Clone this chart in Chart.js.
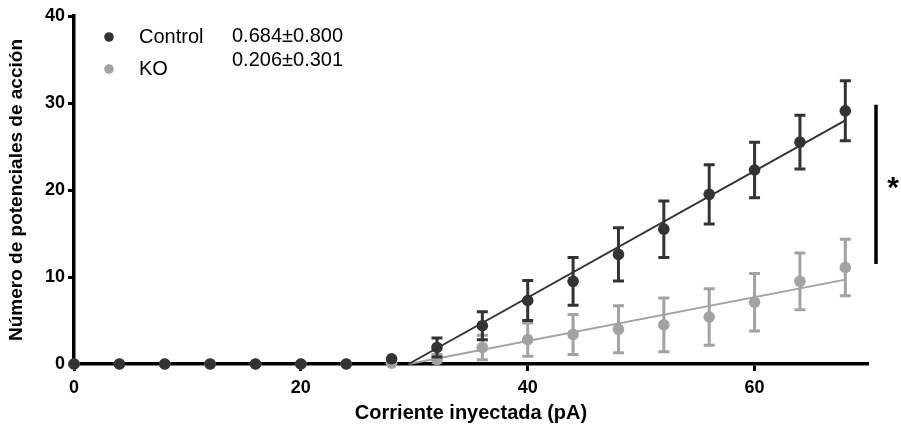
<!DOCTYPE html>
<html>
<head>
<meta charset="utf-8">
<script src="https://cdn.jsdelivr.net/npm/chart.js@4.4.0/dist/chart.umd.min.js"></script>
<style>
  body { margin: 0; background: #fff; }
  #wrap { width: 901px; height: 425px; }
</style>
</head>
<body>
<div id="wrap"><canvas id="myChart" width="901" height="425"></canvas></div>
<script>
// corriente inyectada (pA)
const currents = [0, 4, 8, 12, 16, 20, 24, 28, 32, 36, 40, 44, 48, 52, 56, 60, 64, 68];

const controlMean = [0, 0, 0, 0, 0, 0, 0, 0.6, 1.9, 4.4, 7.3, 9.5, 12.6, 15.5, 19.5, 22.3, 25.5, 29.1];
const controlErr  = [0, 0, 0, 0, 0, 0, 0, 0, 1.1, 1.6, 2.3, 2.75, 3.05, 3.25, 3.4, 3.2, 3.1, 3.45];

const koMean = [0, 0, 0, 0, 0, 0, 0, 0.1, 0.5, 1.9, 2.8, 3.4, 4.0, 4.5, 5.4, 7.1, 9.5, 11.1];
const koErr  = [0, 0, 0, 0, 0, 0, 0, 0, 0.6, 1.4, 1.9, 2.3, 2.7, 3.1, 3.25, 3.3, 3.25, 3.25];

// fit lines (start, end)
const fitX = [29.5, 68];
const controlFit = [0, 28.0];
const koFit = [0, 9.7];

const legendNames = ['Control', 'KO'];
const legendValues = ['0.684\u00b10.800', '0.206\u00b10.301'];

const sigRange = [11.5, 29.8];

const xTicks = [0, 20, 40, 60];

const darkColor = '#333333';
const greyColor = '#a2a2a6';
const FONT = "'Liberation Sans', Arial, sans-serif";

const toPoints = (xs, ys) => xs.map((x, i) => ({x: x, y: ys[i]}));

const errorBars = {
  id: 'errorBars',
  beforeDatasetDraw(chart, args) {
    const ds = chart.data.datasets[args.index];
    if (!ds.errors) return;
    const ctx = chart.ctx;
    const xs = chart.scales.x, ys = chart.scales.y;
    const area = chart.chartArea;
    ctx.save();
    ctx.beginPath();
    ctx.rect(area.left - 10, area.top - 10, area.right - area.left + 20, area.bottom - area.top + 10);
    ctx.clip();
    ctx.strokeStyle = ds.borderColor;
    ctx.lineWidth = 3;
    ds.data.forEach((p, i) => {
      const e = ds.errors[i];
      if (!e) return;
      const px = xs.getPixelForValue(p.x);
      const top = ys.getPixelForValue(p.y + e);
      const bot = ys.getPixelForValue(p.y - e);
      ctx.beginPath();
      ctx.moveTo(px, top); ctx.lineTo(px, bot);
      ctx.moveTo(px - 5.5, top); ctx.lineTo(px + 5.5, top);
      ctx.moveTo(px - 5.5, bot); ctx.lineTo(px + 5.5, bot);
      ctx.stroke();
    });
    ctx.restore();
  }
};

const extras = {
  id: 'extras',
  afterDraw(chart) {
    const ctx = chart.ctx;
    const area = chart.chartArea;
    const ys = chart.scales.y;
    ctx.save();
    // legend
    const colors = [darkColor, greyColor];
    const rowY = [area.top + 21, area.top + 53];
    const valY = [area.top + 20, area.top + 44];
    ctx.font = '20px ' + FONT;
    ctx.textBaseline = 'middle';
    ctx.textAlign = 'left';
    legendNames.forEach((name, i) => {
      ctx.fillStyle = colors[i];
      ctx.beginPath();
      ctx.arc(area.left + 35, rowY[i], 4.8, 0, Math.PI * 2);
      ctx.fill();
      ctx.fillStyle = '#000';
      ctx.fillText(name, area.left + 65, rowY[i]);
      ctx.fillText(legendValues[i], area.left + 158, valY[i]);
    });
    // significance bar
    const bx = area.right + 8;
    ctx.strokeStyle = '#000';
    ctx.lineWidth = 3.5;
    ctx.beginPath();
    ctx.moveTo(bx, ys.getPixelForValue(sigRange[1]));
    ctx.lineTo(bx, ys.getPixelForValue(sigRange[0]));
    ctx.stroke();
    ctx.fillStyle = '#000';
    ctx.font = 'bold 30px ' + FONT;
    ctx.textAlign = 'center';
    ctx.textBaseline = 'middle';
    ctx.fillText('*', area.right + 25, ys.getPixelForValue((sigRange[0] + sigRange[1]) / 2) + 4);
    ctx.restore();
  }
};

const myChart = document.getElementById('myChart');

let chart = new Chart(myChart, {
  type: 'scatter',
  data: {
    datasets: [
      {
        label: 'Control',
        data: toPoints(currents, controlMean),
        errors: controlErr,
        backgroundColor: darkColor,
        borderColor: darkColor,
        pointRadius: 5.8,
        pointBorderWidth: 0,
        order: 0
      },
      {
        label: 'Control fit',
        data: toPoints(fitX, controlFit),
        type: 'line',
        showLine: true,
        borderColor: darkColor,
        borderWidth: 2,
        pointRadius: 0,
        order: 1
      },
      {
        label: 'KO',
        data: toPoints(currents, koMean),
        errors: koErr,
        backgroundColor: greyColor,
        borderColor: greyColor,
        pointRadius: 5.8,
        pointBorderWidth: 0,
        order: 2
      },
      {
        label: 'KO fit',
        data: toPoints(fitX, koFit),
        type: 'line',
        showLine: true,
        borderColor: greyColor,
        borderWidth: 2,
        pointRadius: 0,
        order: 3
      }
    ]
  },
  options: {
    responsive: false,
    animation: false,
    clip: false,
    layout: { padding: { left: 0, top: 16, right: 33, bottom: 0 } },
    plugins: {
      legend: { display: false },
      tooltip: { enabled: false }
    },
    scales: {
      x: {
        type: 'linear',
        min: 0,
        max: 70,
        afterFit(scale) { scale.height = 61; },
        afterBuildTicks(scale) { scale.ticks = xTicks.map(v => ({value: v})); },
        border: { display: true, color: '#000', width: 3.5 },
        grid: { display: true, drawOnChartArea: false, drawTicks: true, tickLength: 7, tickWidth: 3, tickColor: '#000' },
        ticks: { color: '#000', font: { family: FONT, size: 18, weight: 'bold' }, padding: 6, maxRotation: 0 },
        title: { display: true, text: 'Corriente inyectada (pA)', color: '#000', font: { family: FONT, size: 20, weight: 'bold' }, padding: { top: 0, bottom: 0 } }
      },
      y: {
        min: 0,
        max: 40,
        afterFit(scale) { scale.width = 74; },
        border: { display: true, color: '#000', width: 3.5 },
        grid: { display: true, drawOnChartArea: false, drawTicks: true, tickLength: 6, tickWidth: 3, tickColor: '#000' },
        ticks: { stepSize: 10, color: '#000', font: { family: FONT, size: 18, weight: 'bold' }, padding: 3 },
        title: { display: true, text: 'Número de potenciales de acción', color: '#000', font: { family: FONT, size: 19, weight: 'bold' }, padding: { top: 5, bottom: 0 } }
      }
    }
  },
  plugins: [errorBars, extras]
});
</script>
</body>
</html>
